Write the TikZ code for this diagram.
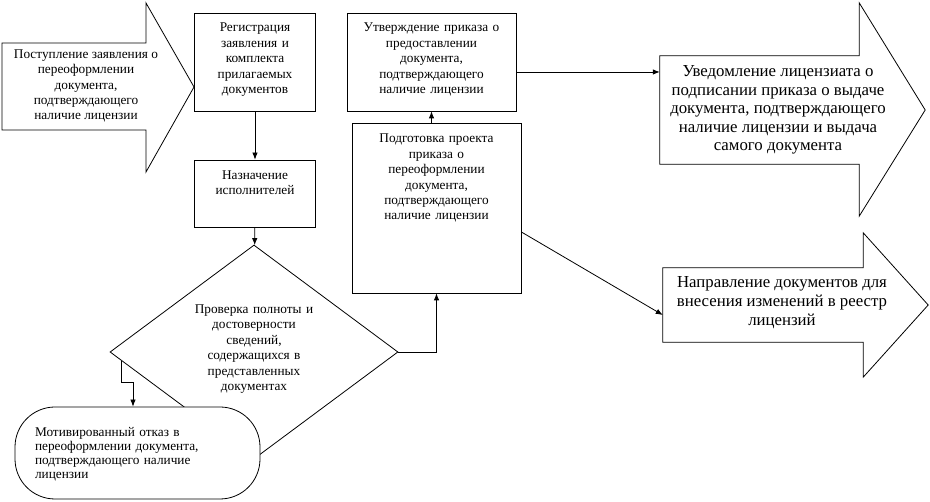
\documentclass[tikz,border=0pt]{standalone}
\usepackage{fontspec}
\setmainfont{Liberation Serif}
\usetikzlibrary{arrows.meta,shapes.geometric,calc}

\newcommand{\smallfnt}{\fontsize{13.3}{15.4}\selectfont}
\newcommand{\bigfnt}{\fontsize{16.8}{18.6}\selectfont}

\begin{document}
\begin{tikzpicture}[x=1pt, y=-1pt,
    every node/.style={inner sep=0pt},
    stepbox/.style={draw, line width=0.8pt, align=center, font=\smallfnt},
    blockline/.style={line width=0.8pt},
    link/.style={-{Latex[length=7pt,width=5.5pt]}, line width=0.8pt}]
    \useasboundingbox (0,0) rectangle (930,502);

    % incoming application
    \draw[blockline] (2,43) -- (146,43) -- (146,3) -- (194,87) -- (146,172) -- (146,130) -- (2,130) -- cycle;
    \node[align=center, font=\smallfnt] (intake) at (86,86) {Поступление заявления о\\переоформлении\\документа,\\подтверждающего\\наличие лицензии};

    \node[stepbox, text width=115pt, minimum width=121pt, text height=19pt, text depth=79pt] (reg) at (255,62) {Регистрация\\заявления и\\комплекта\\прилагаемых\\документов};
    \node[stepbox, text width=115pt, minimum width=121pt, text height=19.5pt, text depth=47.5pt] (assign) at (255,193.5) {Назначение\\исполнителей};
    \node[stepbox, text width=160pt, minimum width=169pt, text height=19pt, text depth=79pt] (approve) at (431.5,62) {Утверждение приказа о\\предоставлении\\документа,\\подтверждающего\\наличие лицензии};
    \node[stepbox, text width=160pt, minimum width=169pt, text height=20pt, text depth=150pt] (prep) at (436.5,208) {Подготовка проекта\\приказа о\\переоформлении\\документа,\\подтверждающего\\наличие лицензии};

    \node[diamond, draw, line width=0.8pt, aspect=1.35, minimum width=288pt, minimum height=214pt, align=center, font=\smallfnt, text width=130pt, text height=10pt, text depth=87pt] (check) at (254,352) {Проверка полноты и\\достоверности\\сведений,\\содержащихся в\\представленных\\документах};

    \node[draw, fill=white, line width=0.8pt, rounded corners=40pt, minimum width=245pt, minimum height=92pt, text width=205pt, align=left, font=\fontsize{13.3}{14}\selectfont, text height=10pt, text depth=42pt] (refusal) at (137.5,453) {Мотивированный отказ в\\переоформлении документа,\\подтверждающего наличие\\лицензии};

    % outgoing results
    \node[minimum width=236pt, minimum height=108pt, align=center, font=\bigfnt] (notify) at (778,110) {Уведомление лицензиата о\\подписании приказа о выдаче\\документа, подтверждающего\\наличие лицензии и выдача\\самого документа};
    \draw[blockline] (notify.north west) -- ([xshift=-37pt]notify.north east) -- ([xshift=-37pt,yshift=53pt]notify.north east) -- ([xshift=29pt]notify.east) -- ([xshift=-37pt,yshift=-52pt]notify.south east) -- ([xshift=-37pt]notify.south east) -- (notify.south west) -- cycle;
    \node[minimum width=238pt, minimum height=74pt, align=center, font=\bigfnt, text depth=8pt] (register) at (782,305) {Направление документов для\\внесения изменений в реестр\\лицензий};
    \draw[blockline] (register.north west) -- ([xshift=-38pt]register.north east) -- ([xshift=-38pt,yshift=35pt]register.north east) -- ([xshift=27pt]register.east) -- ([xshift=-38pt,yshift=-35pt]register.south east) -- ([xshift=-38pt]register.south east) -- (register.south west) -- cycle;

    \draw[link] (reg) -- (assign);
    \draw[link] (assign) -- (check);
    \draw[link] (check.east) -| (prep.south);
    \draw[link] (prep.north -| approve.south) -- (approve.south);
    \draw[link] ([yshift=-10pt]approve.east) -- ([yshift=-10pt]approve.east -| notify.west);
    \draw[link] ([yshift=-24pt]prep.east) -- ([yshift=-10pt]register.west);
    \coordinate (jog) at (133,382);
    \draw[link] ($(check.west)!0.08!(check.south)$) |- (jog) -- (jog |- refusal.north);
\end{tikzpicture}
\end{document}
